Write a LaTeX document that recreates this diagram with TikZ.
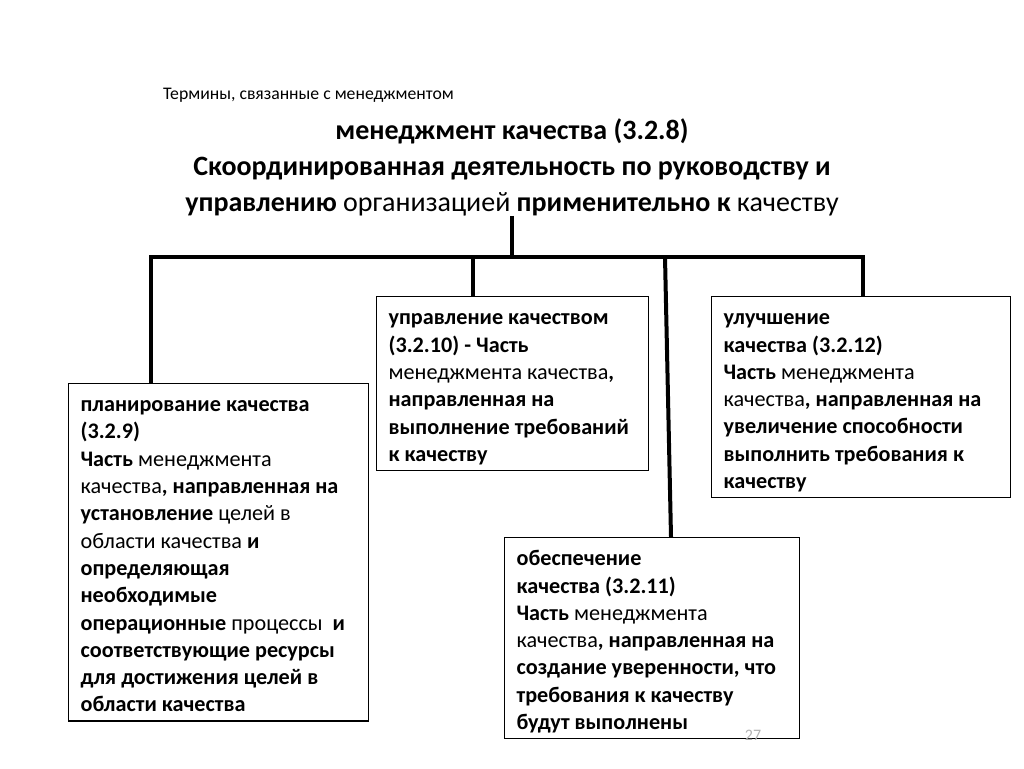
\documentclass[tikz,border=0pt]{standalone}
\usepackage{fontspec}
\setmainfont{Carlito}
\usetikzlibrary{positioning}

\begin{document}
\begin{tikzpicture}[x=1pt, y=-1pt,
		termbox/.style={draw, line width=1.2pt, anchor=north west, align=flush left,
			inner xsep=12pt, inner ysep=0pt, font=\fontsize{22.2}{27.3}\selectfont,
			execute at begin node={\rule{0pt}{28pt}},
			execute at end node={\rule[-9pt]{0pt}{9pt}}},
		link/.style={line width=4pt}]
		
		% --- canvas ---
		\useasboundingbox (0,0) rectangle (1024,768);
		
		% --- heading and title ---
		\node[anchor=west, inner sep=0, font=\fontsize{17.7}{20}\selectfont] (heading) at (163,95)
			{Термины, связанные с менеджментом};
		\node[align=center, inner sep=0, font=\fontsize{28}{36}\selectfont] (title) at (512,167)
			{\textbf{менеджмент качества (3.2.8)}\\
			\textbf{Скоординированная деятельность по руководству и}\\
			\textbf{управлению} организацией \textbf{применительно к} качеству};
		
		% --- term boxes ---
		\node[termbox, text width=276pt, minimum height=337pt] (plan) at (68,383)
			{\textbf{планирование качества}\\
			\textbf{(3.2.9)}\\
			\textbf{Часть} менеджмента\\
			качества\textbf{, направленная на}\\
			\textbf{установление} целей в\\
			области качества \textbf{и}\\
			\textbf{определяющая}\\
			\textbf{необходимые}\\
			\textbf{операционные}~процессы~\ \textbf{и}\\
			\textbf{соответствующие ресурсы}\\
			\textbf{для достижения целей в}\\
			\textbf{области качества}};
		\node[termbox, text width=248pt, minimum height=174pt] (control) at (376,296)
			{\textbf{управление качеством}\\
			\textbf{(3.2.10) - Часть}\\
			менеджмента качества\textbf{,}\\
			\textbf{направленная на}\\
			\textbf{выполнение требований}\\
			\textbf{к качеству}};
		\node[termbox, text width=275pt, minimum height=201pt] (improve) at (711,296)
			{\textbf{улучшение}\\
			\textbf{качества (3.2.12)}\\
			\textbf{Часть} менеджмента\\
			качества\textbf{, направленная на}\\
			\textbf{увеличение способности}\\
			\textbf{выполнить требования к}\\
			\textbf{качеству}};
		\node[termbox, text width=271pt, minimum height=201pt] (assure) at (504,537)
			{\textbf{обеспечение}\\
			\textbf{качества (3.2.11)}\\
			\textbf{Часть} менеджмента\\
			качества\textbf{, направленная на}\\
			\textbf{создание уверенности, что}\\
			\textbf{требования к качеству}\\
			\textbf{будут выполнены}};
		
		% --- page number ---
		\node[gray!60, font=\fontsize{16}{18}\selectfont] (pagenum) at (753,735) {27};
		
		% --- connectors ---
		\coordinate (bus) at (512,257);
		\coordinate (busL) at (151,257);
		\coordinate (busR) at (863,257);
		\coordinate (busC) at (473,257);
		\coordinate (busA) at (665,257);
		\draw[link] (title.south) -- (bus);
		\draw[link] (busL |- plan.north) -- (busL) -- (busR) -- (busR |- improve.north);
		\draw[link] (busC) -- (busC |- control.north);
		\draw[link] (busA) -- ([xshift=6pt]busA |- assure.north);
		
	\end{tikzpicture}
\end{document}
